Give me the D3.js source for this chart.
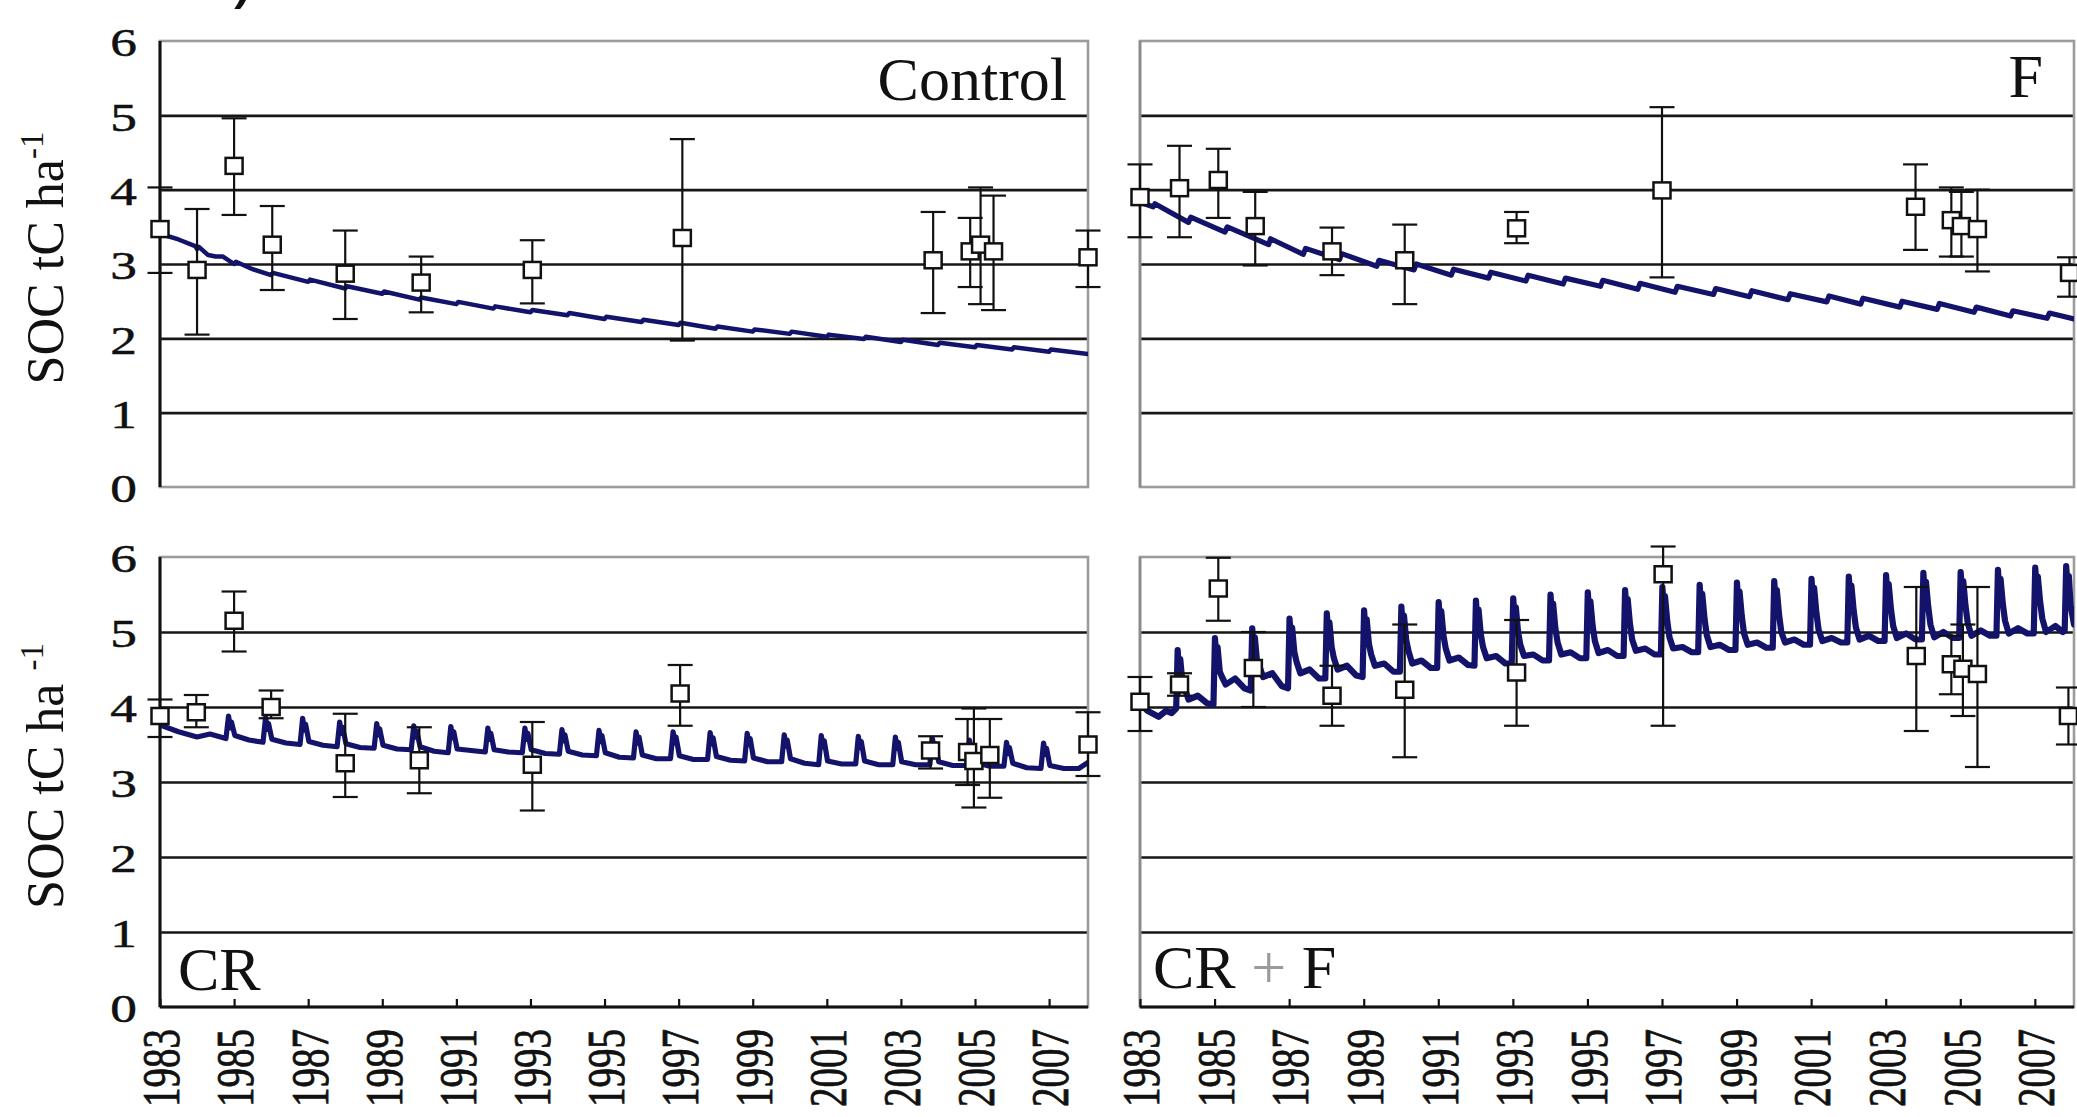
<!DOCTYPE html>
<html><head><meta charset="utf-8">
<script src="https://cdn.jsdelivr.net/npm/d3@7"></script>
<style>
html,body{margin:0;padding:0;background:#fff;overflow:hidden}
svg{display:block}
text{font-family:"Liberation Serif","Times New Roman",serif;fill:#111}
</style></head><body>
<svg id="chart" width="2077" height="1117"></svg>
<script>
// ---------------- DATA ----------------
const panelNames = ["Control", "F", "CR", "CR + F"];
const yTicks = [0, 1, 2, 3, 4, 5, 6];
const gridValues = [1, 2, 3, 4, 5];
const xTicks = [1983, 1985, 1987, 1989, 1991, 1993, 1995, 1997, 1999, 2001, 2003, 2005, 2007];
const xDomain = [1983, 2008.05];
const yDomain = [0, 6];

// observations: [year, mean, low, high]
const ctrlObs = [
  [1983.0, 3.47, 2.88, 4.03], [1984.0, 2.92, 2.05, 3.74], [1985.0, 4.32, 3.66, 4.96],
  [1986.03, 3.26, 2.65, 3.78], [1988.0, 2.87, 2.26, 3.45], [1990.05, 2.75, 2.35, 3.1],
  [1993.05, 2.92, 2.47, 3.32], [1997.1, 3.35, 1.97, 4.68], [2003.87, 3.05, 2.34, 3.7],
  [2004.87, 3.17, 2.69, 3.62], [2005.15, 3.26, 2.46, 4.03], [2005.5, 3.17, 2.38, 3.92],
  [2008.05, 3.09, 2.69, 3.45]
];
const fObs = [
  [1983.0, 3.9, 3.36, 4.34], [1984.06, 4.02, 3.36, 4.59], [1985.1, 4.13, 3.62, 4.55],
  [1986.09, 3.51, 2.98, 3.97], [1988.15, 3.17, 2.85, 3.49], [1990.1, 3.05, 2.46, 3.53],
  [1993.1, 3.48, 3.28, 3.7], [1997.0, 3.99, 2.82, 5.11], [2003.8, 3.77, 3.19, 4.34],
  [2004.76, 3.59, 3.1, 4.03], [2005.03, 3.51, 3.1, 3.97], [2005.46, 3.47, 2.9, 4.0],
  [2007.93, 2.88, 2.56, 3.09]
];
const crObs = [
  [1983.0, 3.88, 3.6, 4.1], [1983.98, 3.93, 3.73, 4.16], [1985.0, 5.15, 4.74, 5.54],
  [1986.0, 4.0, 3.85, 4.22], [1988.0, 3.25, 2.8, 3.91], [1990.0, 3.29, 2.85, 3.73],
  [1993.05, 3.23, 2.62, 3.8], [1997.04, 4.18, 3.75, 4.56], [2003.8, 3.42, 3.18, 3.61],
  [2004.8, 3.4, 2.96, 3.84], [2004.97, 3.28, 2.66, 3.98], [2005.4, 3.36, 2.79, 3.84],
  [2008.05, 3.5, 3.08, 3.93]
];
const crfObs = [
  [1983.0, 4.07, 3.68, 4.4], [1984.06, 4.3, 4.15, 4.45], [1985.1, 5.58, 5.15, 5.99],
  [1986.04, 4.52, 4.0, 5.0], [1988.15, 4.15, 3.75, 4.55], [1990.1, 4.23, 3.33, 5.1],
  [1993.1, 4.46, 3.75, 5.16], [1997.03, 5.77, 3.75, 6.14], [2003.82, 4.68, 3.68, 5.6],
  [2004.76, 4.57, 4.17, 4.95], [2005.07, 4.51, 3.88, 5.1], [2005.46, 4.44, 3.2, 5.6],
  [2007.9, 3.88, 3.5, 4.26]
];

// simulated SOC: [year, value]
const ctrlLine = [
  [1983.0,3.52],[1983.04,3.40],[1983.5,3.33],[1983.95,3.24],[1984.0,3.2],[1984.05,3.23],[1984.3,3.12],
  [1984.5,3.1],[1984.7,3.1],[1985.0,3.0],[1985.05,3.03],[1985.5,2.93],[1986.0,2.85],[1986.05,2.88],
  [1987.0,2.76],[1987.05,2.79],[1988.0,2.67],[1988.05,2.7],[1989.0,2.6],[1989.05,2.63],[1990.0,2.52],
  [1990.05,2.55],[1991.0,2.46],[1991.05,2.49],[1992.0,2.4],[1992.05,2.43],[1993.0,2.35],[1993.05,2.38],
  [1994.0,2.31],[1994.05,2.34],[1995.0,2.26],[1995.05,2.29],[1996.0,2.22],[1996.05,2.25],[1997.0,2.18],
  [1997.05,2.21],[1998.0,2.13],[1998.05,2.16],[1999.0,2.09],[1999.05,2.12],[2000.0,2.06],[2000.05,2.09],
  [2001.0,2.02],[2001.05,2.05],[2002.0,1.99],[2002.05,2.02],[2003.0,1.95],[2003.05,1.98],[2004.0,1.91],
  [2004.05,1.94],[2005.0,1.88],[2005.05,1.91],[2006.0,1.85],[2006.05,1.88],[2007.0,1.82],[2007.05,1.85],
  [2008.05,1.79]
];
const fLine = [
  [1983.0,3.83],[1983.35,3.77],[1983.4,3.81],[1984.3,3.56],[1984.36,3.63],[1985.28,3.43],[1985.34,3.5],
  [1986.45,3.26],[1986.5,3.34],[1987.38,3.13],[1987.44,3.21],[1988.35,3.06],[1988.41,3.14],[1989.35,2.97],
  [1989.41,3.05],[1990.35,2.92],[1990.41,3.0],[1991.35,2.85],[1991.41,2.93],[1992.35,2.81],[1992.41,2.89],
  [1993.35,2.77],[1993.41,2.85],[1994.35,2.73],[1994.41,2.81],[1995.35,2.7],[1995.41,2.78],[1996.35,2.66],
  [1996.41,2.74],[1997.35,2.62],[1997.41,2.7],[1998.38,2.59],[1998.44,2.67],[1999.35,2.56],[1999.41,2.64],
  [2000.38,2.52],[2000.44,2.6],[2001.42,2.49],[2001.48,2.57],[2002.33,2.46],[2002.39,2.54],[2003.38,2.42],
  [2003.44,2.5],[2004.38,2.39],[2004.44,2.47],[2005.37,2.35],[2005.43,2.42],[2006.35,2.3],[2006.41,2.37],
  [2007.33,2.27],[2007.39,2.34],[2008.05,2.26]
];
const crLine = [
  [1983.0,3.76],[1983.5,3.67],[1984.0,3.6],[1984.35,3.64],[1984.78,3.58],
  [1984.85,3.88],[1984.9,3.72],[1984.93,3.8],[1985.02,3.62],[1985.4,3.56],[1985.78,3.53],
  [1985.85,3.86],[1985.9,3.7],[1985.93,3.78],[1986.02,3.57],[1986.4,3.52],[1986.78,3.5],
  [1986.85,3.85],[1986.9,3.69],[1986.93,3.77],[1987.02,3.54],[1987.4,3.49],[1987.78,3.47],
  [1987.85,3.8],[1987.9,3.65],[1987.93,3.73],[1988.02,3.51],[1988.4,3.46],[1988.78,3.45],
  [1988.85,3.78],[1988.9,3.63],[1988.93,3.71],[1989.02,3.49],[1989.4,3.44],[1989.78,3.43],
  [1989.85,3.75],[1989.9,3.6],[1989.93,3.68],[1990.02,3.47],[1990.4,3.41],[1990.78,3.39],
  [1990.85,3.74],[1990.9,3.59],[1990.93,3.67],[1991.02,3.44],[1991.4,3.42],[1991.78,3.4],
  [1991.85,3.72],[1991.9,3.57],[1991.93,3.65],[1992.02,3.43],[1992.4,3.4],[1992.78,3.39],
  [1992.85,3.72],[1992.9,3.57],[1992.93,3.65],[1993.02,3.43],[1993.4,3.38],[1993.78,3.37],
  [1993.85,3.7],[1993.9,3.55],[1993.93,3.63],[1994.02,3.41],[1994.4,3.36],[1994.78,3.35],
  [1994.85,3.69],[1994.9,3.54],[1994.93,3.62],[1995.02,3.39],[1995.4,3.33],[1995.78,3.32],
  [1995.85,3.67],[1995.9,3.52],[1995.93,3.6],[1996.02,3.36],[1996.4,3.31],[1996.78,3.31],
  [1996.85,3.67],[1996.9,3.52],[1996.93,3.6],[1997.02,3.35],[1997.4,3.3],[1997.78,3.3],
  [1997.85,3.66],[1997.9,3.51],[1997.93,3.59],[1998.02,3.34],[1998.4,3.29],[1998.78,3.28],
  [1998.85,3.65],[1998.9,3.5],[1998.93,3.58],[1999.02,3.32],[1999.4,3.27],[1999.78,3.27],
  [1999.85,3.63],[1999.9,3.48],[1999.93,3.56],[2000.02,3.31],[2000.4,3.25],[2000.78,3.23],
  [2000.85,3.62],[2000.9,3.47],[2000.93,3.55],[2001.02,3.28],[2001.4,3.24],[2001.78,3.24],
  [2001.85,3.61],[2001.9,3.46],[2001.93,3.54],[2002.02,3.28],[2002.4,3.23],[2002.78,3.23],
  [2002.85,3.6],[2002.9,3.45],[2002.93,3.53],[2003.02,3.27],[2003.4,3.23],[2003.78,3.23],
  [2003.85,3.58],[2003.9,3.43],[2003.93,3.51],[2004.02,3.27],[2004.4,3.22],[2004.78,3.22],
  [2004.85,3.56],[2004.9,3.41],[2004.93,3.49],[2005.02,3.26],[2005.4,3.21],[2005.78,3.21],
  [2005.85,3.53],[2005.9,3.38],[2005.93,3.46],[2006.02,3.25],[2006.4,3.19],[2006.78,3.18],
  [2006.85,3.52],[2006.9,3.37],[2006.93,3.45],[2007.02,3.22],[2007.4,3.18],[2007.8,3.18],[2008.05,3.26]
];
const crfLine = [
  [1983.0,4.05],[1983.2,3.95],[1983.5,3.87],[1983.7,3.95],[1983.85,3.92],
  [1983.97,3.98],[1984.01,4.76],[1984.05,4.46],[1984.08,4.64],[1984.14,4.31],[1984.2,4.25],[1984.3,4.1],[1984.55,4.15],[1984.8,4.05],
  [1984.97,4.03],[1985.01,4.92],[1985.05,4.62],[1985.08,4.8],[1985.14,4.47],[1985.2,4.4],[1985.3,4.3],[1985.55,4.38],[1985.8,4.25],
  [1985.97,4.22],[1986.01,5.05],[1986.05,4.75],[1986.08,4.93],[1986.14,4.6],[1986.2,4.55],[1986.3,4.4],[1986.55,4.45],[1986.8,4.28],
  [1986.97,4.25],[1987.01,5.18],[1987.05,4.88],[1987.08,5.06],[1987.14,4.73],[1987.2,4.6],[1987.3,4.45],[1987.55,4.5],[1987.8,4.38],
  [1987.97,4.38],[1988.01,5.25],[1988.05,4.95],[1988.08,5.13],[1988.14,4.8],[1988.2,4.65],[1988.3,4.5],[1988.55,4.55],[1988.8,4.42],
  [1988.97,4.4],[1989.01,5.29],[1989.05,4.99],[1989.08,5.17],[1989.14,4.84],[1989.2,4.7],[1989.3,4.55],[1989.55,4.58],[1989.8,4.47],
  [1989.97,4.47],[1990.01,5.34],[1990.05,5.04],[1990.08,5.22],[1990.14,4.89],[1990.2,4.75],[1990.3,4.58],[1990.55,4.62],[1990.8,4.52],
  [1990.97,4.52],[1991.01,5.4],[1991.05,5.1],[1991.08,5.28],[1991.14,4.95],[1991.2,4.78],[1991.3,4.62],[1991.55,4.66],[1991.8,4.56],
  [1991.97,4.55],[1992.01,5.42],[1992.05,5.12],[1992.08,5.3],[1992.14,4.97],[1992.2,4.8],[1992.3,4.65],[1992.55,4.68],[1992.8,4.58],
  [1992.97,4.58],[1993.01,5.45],[1993.05,5.15],[1993.08,5.33],[1993.14,5.0],[1993.2,4.83],[1993.3,4.68],[1993.55,4.7],[1993.8,4.62],
  [1993.97,4.62],[1994.01,5.5],[1994.05,5.2],[1994.08,5.38],[1994.14,5.05],[1994.2,4.86],[1994.3,4.7],[1994.55,4.73],[1994.8,4.65],
  [1994.97,4.65],[1995.01,5.53],[1995.05,5.23],[1995.08,5.41],[1995.14,5.08],[1995.2,4.88],[1995.3,4.72],[1995.55,4.76],[1995.8,4.68],
  [1995.97,4.68],[1996.01,5.56],[1996.05,5.26],[1996.08,5.44],[1996.14,5.11],[1996.2,4.9],[1996.3,4.75],[1996.55,4.78],[1996.8,4.7],
  [1996.97,4.7],[1997.01,5.6],[1997.05,5.3],[1997.08,5.48],[1997.14,5.15],[1997.2,4.93],[1997.3,4.78],[1997.55,4.8],[1997.8,4.73],
  [1997.97,4.73],[1998.01,5.63],[1998.05,5.33],[1998.08,5.51],[1998.14,5.18],[1998.2,4.96],[1998.3,4.8],[1998.55,4.83],[1998.8,4.76],
  [1998.97,4.76],[1999.01,5.66],[1999.05,5.36],[1999.08,5.54],[1999.14,5.21],[1999.2,4.98],[1999.3,4.83],[1999.55,4.86],[1999.8,4.79],
  [1999.97,4.79],[2000.01,5.68],[2000.05,5.38],[2000.08,5.56],[2000.14,5.23],[2000.2,5.0],[2000.3,4.86],[2000.55,4.9],[2000.8,4.83],
  [2000.97,4.83],[2001.01,5.71],[2001.05,5.41],[2001.08,5.59],[2001.14,5.26],[2001.2,5.03],[2001.3,4.88],[2001.55,4.92],[2001.8,4.86],
  [2001.97,4.86],[2002.01,5.74],[2002.05,5.44],[2002.08,5.62],[2002.14,5.29],[2002.2,5.06],[2002.3,4.9],[2002.55,4.95],[2002.8,4.88],
  [2002.97,4.88],[2003.01,5.76],[2003.05,5.46],[2003.08,5.64],[2003.14,5.31],[2003.2,5.08],[2003.3,4.92],[2003.55,4.98],[2003.8,4.9],
  [2003.97,4.9],[2004.01,5.79],[2004.05,5.49],[2004.08,5.67],[2004.14,5.34],[2004.2,5.1],[2004.3,4.93],[2004.55,5.0],[2004.8,4.92],
  [2004.97,4.92],[2005.01,5.8],[2005.05,5.5],[2005.08,5.68],[2005.14,5.35],[2005.2,5.12],[2005.3,4.95],[2005.55,5.02],[2005.8,4.95],
  [2005.97,4.95],[2006.01,5.83],[2006.05,5.53],[2006.08,5.71],[2006.14,5.38],[2006.2,5.15],[2006.3,4.98],[2006.55,5.05],[2006.8,4.98],
  [2006.97,4.98],[2007.01,5.86],[2007.05,5.56],[2007.08,5.74],[2007.14,5.41],[2007.2,5.18],[2007.3,5.0],[2007.55,5.08],[2007.75,5.0],
  [2007.8,5.02],[2007.84,5.88],[2007.88,5.6],[2007.91,5.75],[2007.96,5.35],[2008.05,5.1]
];

const obsSets = [ctrlObs, fObs, crObs, crfObs];
const lineSets = [ctrlLine, fLine, crLine, crfLine];

// ---------------- LAYOUT ----------------
const layout = [
  {left:160,  right:1088, top:41,  bottom:487,  row:0, col:0, lw:4.5},
  {left:1140, right:2074, top:41,  bottom:487,  row:0, col:1, lw:5.2},
  {left:160,  right:1088, top:557, bottom:1007, row:1, col:0, lw:5.2},
  {left:1140, right:2074, top:557, bottom:1007, row:1, col:1, lw:6.2}
];
const labelPos = [
  {x:1067, y:100, anchor:"end"},
  {x:2043, y:97,  anchor:"end"},
  {x:178,  y:990, anchor:"start"},
  {x:1153, y:988, anchor:"start"}
];

const svg = d3.select("#chart");
const defs = svg.append("defs");

// remnant of the title above the figure (cut off in the source too)
svg.append("text").attr("x", 232).attr("y", -2)
  .style("font-family", "'Noto Sans', 'DejaVu Sans', sans-serif")
  .style("font-size", "72px").text(")");

layout.forEach((p, i) => {
  const x = d3.scaleLinear().domain(xDomain).range([p.left, p.right]);
  const y = d3.scaleLinear().domain(yDomain).range([p.bottom, p.top]);
  const g = svg.append("g");

  defs.append("clipPath").attr("id", "clip" + i)
    .append("rect").attr("x", p.left).attr("y", p.top - 2)
    .attr("width", p.right - p.left).attr("height", p.bottom - p.top + 2);

  // gridlines
  const grid = g.append("g").attr("transform", `translate(${p.left},0)`)
    .call(d3.axisLeft(y).tickValues(gridValues).tickSize(-(p.right - p.left)).tickFormat(""));
  grid.select(".domain").remove();
  grid.selectAll("line").attr("stroke", "#161616").attr("stroke-width", 2.6);

  // frame
  g.append("rect").attr("x", p.left).attr("y", y(6))
    .attr("width", p.right - p.left).attr("height", y(0) - y(6))
    .attr("fill", "none").attr("stroke", "#9c9c9c").attr("stroke-width", 2.6);
  g.append("line").attr("x1", p.left).attr("x2", p.left).attr("y1", y(6)).attr("y2", y(0))
    .attr("stroke", p.col === 0 ? "#111" : "#8a8a8a").attr("stroke-width", p.col === 0 ? 3 : 2.6);

  // simulated line
  const line = d3.line().x(d => x(d[0])).y(d => y(d[1]));
  g.append("path").datum(lineSets[i]).attr("d", line)
    .attr("clip-path", `url(#clip${i})`)
    .attr("fill", "none").attr("stroke", "#13136b").attr("stroke-width", p.lw)
    .attr("stroke-linejoin", "round").attr("stroke-linecap", "round");

  // error bars
  const obs = obsSets[i];
  const eb = g.append("g").attr("stroke", "#111").attr("stroke-width", 2.2);
  eb.selectAll(".w").data(obs).join("line")
    .attr("x1", d => x(d[0])).attr("x2", d => x(d[0]))
    .attr("y1", d => y(d[2])).attr("y2", d => y(d[3]));
  eb.selectAll(".lo").data(obs).join("line").attr("class", "lo")
    .attr("x1", d => x(d[0]) - 12.5).attr("x2", d => x(d[0]) + 12.5)
    .attr("y1", d => y(d[2])).attr("y2", d => y(d[2]));
  eb.selectAll(".hi").data(obs).join("line").attr("class", "hi")
    .attr("x1", d => x(d[0]) - 12.5).attr("x2", d => x(d[0]) + 12.5)
    .attr("y1", d => y(d[3])).attr("y2", d => y(d[3]));

  // squares
  g.append("g").selectAll("rect").data(obs).join("rect")
    .attr("x", d => x(d[0]) - 8.5).attr("y", d => y(d[1]) - 8)
    .attr("width", 17).attr("height", 16)
    .attr("fill", "#fff").attr("stroke", "#111").attr("stroke-width", 2.5);

  // y axis labels (left column)
  if (p.col === 0) {
    const ya = g.append("g").attr("transform", `translate(${p.left},0)`)
      .call(d3.axisLeft(y).tickValues(yTicks).tickSize(0).tickFormat(d3.format("d")));
    ya.select(".domain").remove();
    ya.selectAll("text")
      .attr("x", null).attr("dy", "0.36em")
      .attr("transform", "translate(-23,0) scale(1.3,1)")
      .attr("text-anchor", "end")
      .style("font-family", "'Liberation Serif', serif")
      .style("font-size", "41px").attr("fill", "#111")
      .attr("stroke", "#111").attr("stroke-width", 0.5);

    const title = g.append("text")
      .attr("transform", `translate(63,${(p.top + p.bottom) / 2 - 6}) rotate(-90)`)
      .attr("text-anchor", "middle").style("font-size", "52px");
    title.append("tspan").text(p.row === 0 ? "SOC tC ha" : "SOC tC ha ");
    title.append("tspan").attr("dy", -20).style("font-size", "33px").text("-1");
  }

  // x axis (bottom row)
  if (p.row === 1) {
    const xa = g.append("g").attr("transform", `translate(0,${p.bottom})`)
      .call(d3.axisBottom(x).tickValues(xTicks).tickSize(-8).tickFormat(d3.format("d")));
    xa.select(".domain").attr("d", `M${p.left},0H${p.right}`).attr("stroke", "#111").attr("stroke-width", 3);
    xa.selectAll(".tick line").attr("stroke", "#111").attr("stroke-width", 2.2);
    xa.selectAll("text")
      .attr("x", null).attr("y", null).attr("dy", "0.36em")
      .attr("transform", "translate(0,22) scale(1.34,1) rotate(-90)")
      .attr("text-anchor", "end")
      .style("font-family", "'Liberation Serif', serif")
      .style("font-size", "39px").attr("fill", "#111")
      .attr("stroke", "#111").attr("stroke-width", 0.6);
  }

  // panel label
  const lp = labelPos[i];
  const lab = g.append("text").attr("x", lp.x).attr("y", lp.y)
    .attr("text-anchor", lp.anchor).style("font-size", "62px");
  const name = panelNames[i];
  if (name.includes("+")) {
    const parts = name.split("+");
    lab.append("tspan").text(parts[0]);
    lab.append("tspan").attr("fill", "#9a9a9a").text("+");
    lab.append("tspan").text(parts[1]);
  } else {
    lab.text(name);
  }
});
</script>
</body></html>
